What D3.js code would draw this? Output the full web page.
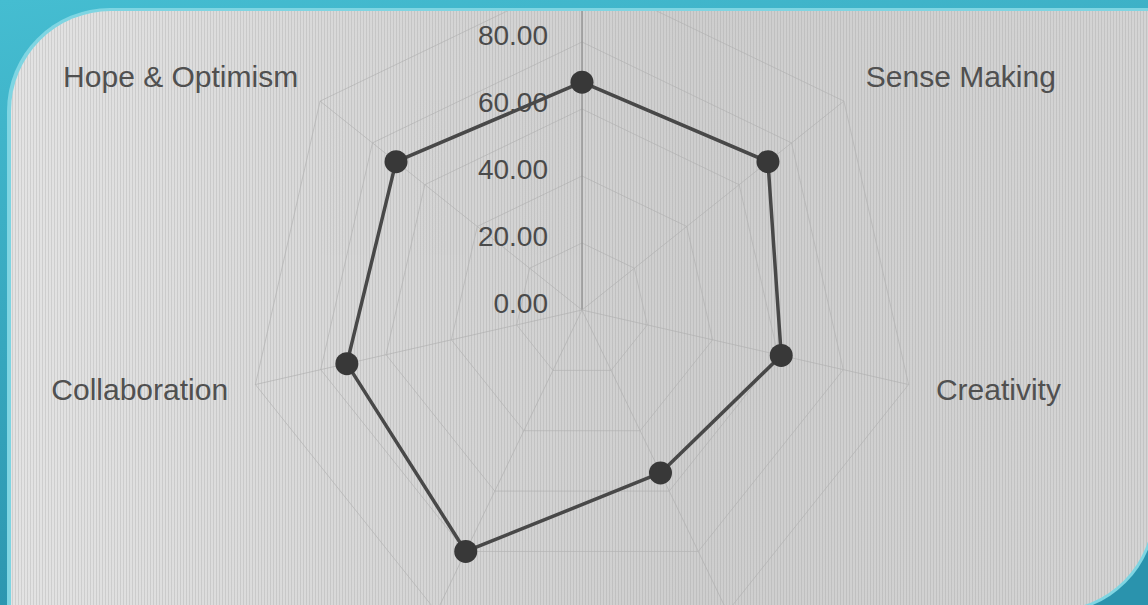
<!DOCTYPE html>
<html>
<head>
<meta charset="utf-8">
<script src="https://cdn.jsdelivr.net/npm/d3@7"></script>
<style>
  html, body { margin: 0; padding: 0; background: #3bb4c9; }
  svg { display: block; }
</style>
</head>
<body>
<svg id="chart" width="1148" height="605"></svg>
<script>
// ---- data (clockwise from the top axis) ----
const categories = ["", "Sense Making", "Creativity", "", "", "Collaboration", "Hope & Optimism"];
const values = [68, 71, 61, 54, 80, 72, 71];
const gridValues = [20, 40, 60, 80, 100];
const tickValues = [0, 20, 40, 60, 80];
const tickLabels = ["0.00", "20.00", "40.00", "60.00", "80.00"];

const W = 1148, H = 605;
const cx = 582, cy = 310, R = 335;
const svg = d3.select("#chart");
const defs = svg.append("defs");

// teal slide frame
const bg = defs.append("linearGradient").attr("id", "teal").attr("x1", 0).attr("y1", 0).attr("x2", 0.3).attr("y2", 1);
bg.append("stop").attr("offset", "0%").attr("stop-color", "#45bdd1");
bg.append("stop").attr("offset", "100%").attr("stop-color", "#2a93ad");
svg.append("rect").attr("width", W).attr("height", H).attr("fill", "url(#teal)");

// panel path: rounded top-left and bottom-right corners
function panelPath(x0, y0, x1, y1, r) {
  return `M${x0},${y0 + r} A${r},${r} 0 0 1 ${x0 + r},${y0} L${x1},${y0} L${x1},${y1 - r} A${r},${r} 0 0 1 ${x1 - r},${y1} L${x0},${y1} Z`;
}
svg.append("path").attr("d", panelPath(7, 8, 1156, 613, 103)).attr("fill", "#7fd5e2");

const pg = defs.append("linearGradient").attr("id", "panel").attr("x1", 0).attr("y1", 0).attr("x2", 1).attr("y2", 0);
pg.append("stop").attr("offset", "0%").attr("stop-color", "#e3e3e3");
pg.append("stop").attr("offset", "35%").attr("stop-color", "#d6d6d6");
pg.append("stop").attr("offset", "60%").attr("stop-color", "#cecece");
pg.append("stop").attr("offset", "100%").attr("stop-color", "#d4d4d4");
const pat = defs.append("pattern").attr("id", "stripes").attr("patternUnits", "userSpaceOnUse").attr("width", 3).attr("height", 8);
pat.append("rect").attr("x", 0).attr("y", 0).attr("width", 1).attr("height", 8).attr("fill", "#8a8a8a").attr("opacity", 0.22);

const panelD = panelPath(11, 11, 1153, 610, 100);
defs.append("clipPath").attr("id", "clip").append("path").attr("d", panelD);
svg.append("path").attr("d", panelD).attr("fill", "url(#panel)");
svg.append("path").attr("d", panelD).attr("fill", "url(#stripes)");

const g = svg.append("g").attr("clip-path", "url(#clip)");

// ---- scales ----
const n = categories.length;
const angle = d3.scaleLinear().domain([0, n]).range([0, 2 * Math.PI]);
const r = d3.scaleLinear().domain([0, 100]).range([0, R]);
const pt = (i, v) => [cx + r(v) * Math.sin(angle(i)), cy - r(v) * Math.cos(angle(i))];

// ---- grid polygons ----
const lineClosed = d3.line().curve(d3.curveLinearClosed);
g.selectAll("path.grid").data(gridValues).join("path")
  .attr("class", "grid")
  .attr("d", t => lineClosed(d3.range(n).map(i => pt(i, t))))
  .attr("fill", "none").attr("stroke", "#b0b0b0").attr("stroke-width", 1).attr("opacity", 0.65);

// spokes
g.selectAll("line.spoke").data(d3.range(n)).join("line")
  .attr("class", "spoke")
  .attr("x1", cx).attr("y1", cy)
  .attr("x2", i => pt(i, 100)[0]).attr("y2", i => pt(i, 100)[1])
  .attr("stroke", i => i === 0 ? "#8c8c8c" : "#b0b0b0")
  .attr("stroke-width", i => i === 0 ? 1.5 : 1).attr("opacity", i => i === 0 ? 0.85 : 0.65);

// radial tick labels
g.selectAll("text.tick").data(tickValues).join("text")
  .attr("class", "tick")
  .attr("x", cx - 34)
  .attr("y", t => cy - r(t))
  .attr("dy", "0.1em")
  .attr("text-anchor", "end")
  .attr("font-family", "Liberation Sans, Arial, sans-serif")
  .attr("font-size", 28)
  .attr("fill", "#4a4a4a")
  .text((t, i) => tickLabels[i]);

// category labels
g.selectAll("text.cat").data(categories).join("text")
  .attr("class", "cat")
  .attr("x", (d, i) => pt(i, 100)[0] + 28 * Math.sin(angle(i)))
  .attr("y", (d, i) => pt(i, 100)[1] - 28 * Math.cos(angle(i)))
  .attr("dy", (d, i) => Math.cos(angle(i)) > 0 ? "0.1em" : "0.32em")
  .attr("text-anchor", (d, i) => { const s = Math.sin(angle(i)); return s > 0.1 ? "start" : s < -0.1 ? "end" : "middle"; })
  .attr("font-family", "Liberation Sans, Arial, sans-serif")
  .attr("font-size", 30)
  .attr("fill", "#505050")
  .text(d => d);

// ---- series ----
g.append("path")
  .attr("d", lineClosed(values.map((v, i) => pt(i, v))))
  .attr("fill", "none").attr("stroke", "#484848").attr("stroke-width", 3.5).attr("stroke-linejoin", "round");

g.selectAll("circle.pt").data(values).join("circle")
  .attr("class", "pt")
  .attr("cx", (v, i) => pt(i, v)[0]).attr("cy", (v, i) => pt(i, v)[1])
  .attr("r", 11.5).attr("fill", "#383838");
</script>
</body>
</html>
